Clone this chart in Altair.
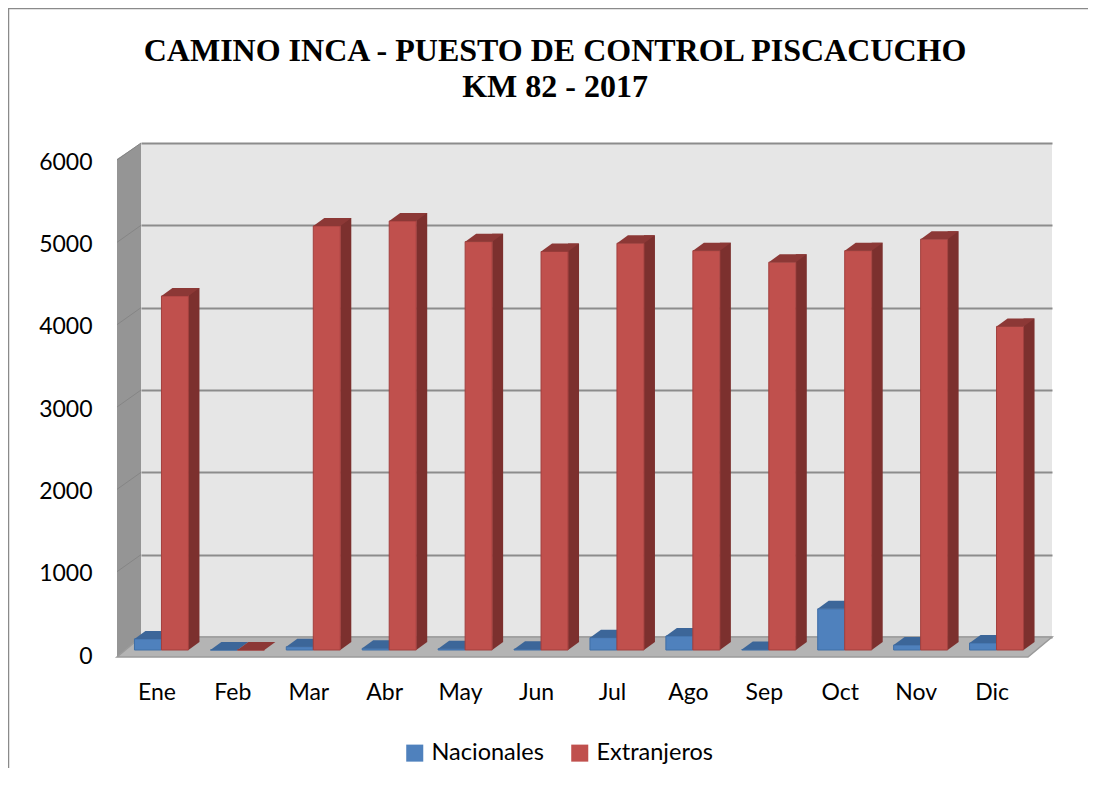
import altair as alt
import pandas as pd

# ---------------- data ----------------
meses = ["Ene", "Feb", "Mar", "Abr", "May", "Jun", "Jul", "Ago", "Sep", "Oct", "Nov", "Dic"]
nacionales = [135, 0, 40, 20, 15, 10, 150, 170, 5, 500, 60, 85]
extranjeros = [4300, 0, 5150, 5210, 4960, 4840, 4940, 4850, 4710, 4850, 4990, 3930]
series = ["Nacionales", "Extranjeros"]
y_ticks = [0, 1000, 2000, 3000, 4000, 5000, 6000]
titulo = ["CAMINO INCA - PUESTO DE CONTROL PISCACUCHO", "KM 82 - 2017"]

rows = []
for m, n, e in zip(meses, nacionales, extranjeros):
    rows.append({"mes": m, "serie": series[0], "valor": n})
    rows.append({"mes": m, "serie": series[1], "valor": e})
df = pd.DataFrame(rows)
one = pd.DataFrame({"k": [0]})
ticks_df = pd.DataFrame({"v": y_ticks[1:]})

# ---------------- styling ----------------
W, H = 911, 494          # back wall
BW = 27                  # bar front width
DX, DY = 11, 8           # bar depth
SHIFT_Y = 13             # bar plane below back wall
FONT = "Lato"
front_cols = ["#4F81BD", "#C0504D"]
side_cols = {"Nacionales": "#385D8A", "Extranjeros": "#7C302E"}
top_cols = {"Nacionales": "#3C6699", "Extranjeros": "#8C3836"}
edge_cols = {"Nacionales": "#3F6EA6", "Extranjeros": "#A23F3D"}
centers = {"Nacionales": -31, "Extranjeros": -4}

x_enc = alt.X(
    "mes:N", sort=meses,
    scale=alt.Scale(paddingInner=0, paddingOuter=0),
    axis=alt.Axis(title=None, labelAngle=0, domain=False, ticks=False, grid=False,
                  labelFont=FONT, labelFontSize=23, labelColor="black",
                  labelPadding=44, labelOffset=-22),
)
y_axis = alt.Axis(title=None, values=y_ticks, format="d", domain=False, ticks=False,
                  grid=True, gridColor="#8C8C8C", gridWidth=2, labelFont=FONT,
                  labelFontSize=23, labelColor="black", labelPadding=49, labelOffset=19)
y_scale = alt.Scale(domain=[0, 6000], nice=False)
y_enc = alt.Y("valor:Q", scale=y_scale, axis=y_axis)

# ---------------- decor ----------------
wall = alt.Chart(one).mark_point(
    shape="M0,0 L0,494 L-24,514 L-24,16 Z", size=4, filled=True, opacity=1,
    color="#959595", strokeWidth=0,
).encode(x=alt.value(0), y=alt.value(0))

floor = alt.Chart(one).mark_point(
    shape="M0,494 L911,494 L887,514 L-24,514 Z", size=4, filled=True, opacity=1,
    color="#B4B4B4", stroke="#9A9A9A", strokeWidth=1.5,
).encode(x=alt.value(0), y=alt.value(0))

wall_grid = alt.Chart(ticks_df).mark_rule(
    color="#858585", strokeWidth=1, x2Offset=0, y2Offset=17
).encode(
    x=alt.value(0), x2=alt.value(-24),
    y=alt.Y("v:Q", scale=y_scale, axis=y_axis), y2="v:Q",
)

border_top = alt.Chart(one).mark_rule(color="#8A8A8A", strokeWidth=1.5).encode(
    x=alt.value(-133), x2=alt.value(950), y=alt.value(-134.5))
border_left = alt.Chart(one).mark_rule(color="#8A8A8A", strokeWidth=1.5).encode(
    x=alt.value(-132.5), y=alt.value(-135), y2=alt.value(640))

# ---------------- bars ----------------
color_enc = alt.Color(
    "serie:N",
    scale=alt.Scale(domain=series, range=front_cols),
    legend=alt.Legend(
        title=None, orient="none", legendX=262, legendY=598, direction="horizontal",
        symbolType="square", symbolSize=290, symbolStrokeWidth=0,
        labelFont=FONT, labelFontSize=23.5, labelColor="black",
        labelOffset=5, columnPadding=24,
    ),
)

bar_layers = []
for s in series:
    c = centers[s]
    base = alt.Chart(df).transform_filter(alt.datum.serie == s)
    side = base.mark_bar(
        width=DX, xOffset=c + BW / 2 + DX / 2, yOffset=SHIFT_Y - DY, y2Offset=SHIFT_Y - DY,
        color=side_cols[s],
    ).encode(x=x_enc, y=y_enc, y2=alt.datum(0))
    tri = base.transform_filter(alt.datum.valor > 0).mark_point(
        shape="M0,0 L0,-8 L11,-8 Z", size=4, filled=True, opacity=1, strokeWidth=0,
        color=side_cols[s], xOffset=c + BW / 2, yOffset=SHIFT_Y,
    ).encode(x=x_enc, y=alt.datum(0))
    front = base.mark_bar(
        width=BW, xOffset=c, yOffset=SHIFT_Y, y2Offset=SHIFT_Y,
        stroke=edge_cols[s], strokeWidth=1,
    ).encode(x=x_enc, y=y_enc, y2=alt.datum(0), color=color_enc)
    top = base.mark_point(
        shape="M0,0 L27,0 L38,-8 L11,-8 Z", size=4, filled=True, opacity=1, strokeWidth=0,
        color=top_cols[s], xOffset=c - BW / 2, yOffset=SHIFT_Y,
    ).encode(x=x_enc, y=y_enc)
    bar_layers += [side, tri, front, top]

chart = alt.layer(
    border_top, border_left, wall, wall_grid, floor, *bar_layers
).properties(
    width=W, height=H,
    title=alt.Title(
        text=titulo, font="Liberation Serif", fontSize=32, fontWeight="bold",
        color="black", anchor="middle", frame="group", dx=-41.5, offset=-97, lineHeight=36,
    ),
    autosize=alt.AutoSizeParams(type="none"),
    padding={"left": 133, "top": 135, "right": 36, "bottom": 131},
    background="white",
).configure_view(
    stroke=None, fill="#E6E6E6"
)

chart.save("out.html", embed_options={"renderer": "svg", "actions": False})
